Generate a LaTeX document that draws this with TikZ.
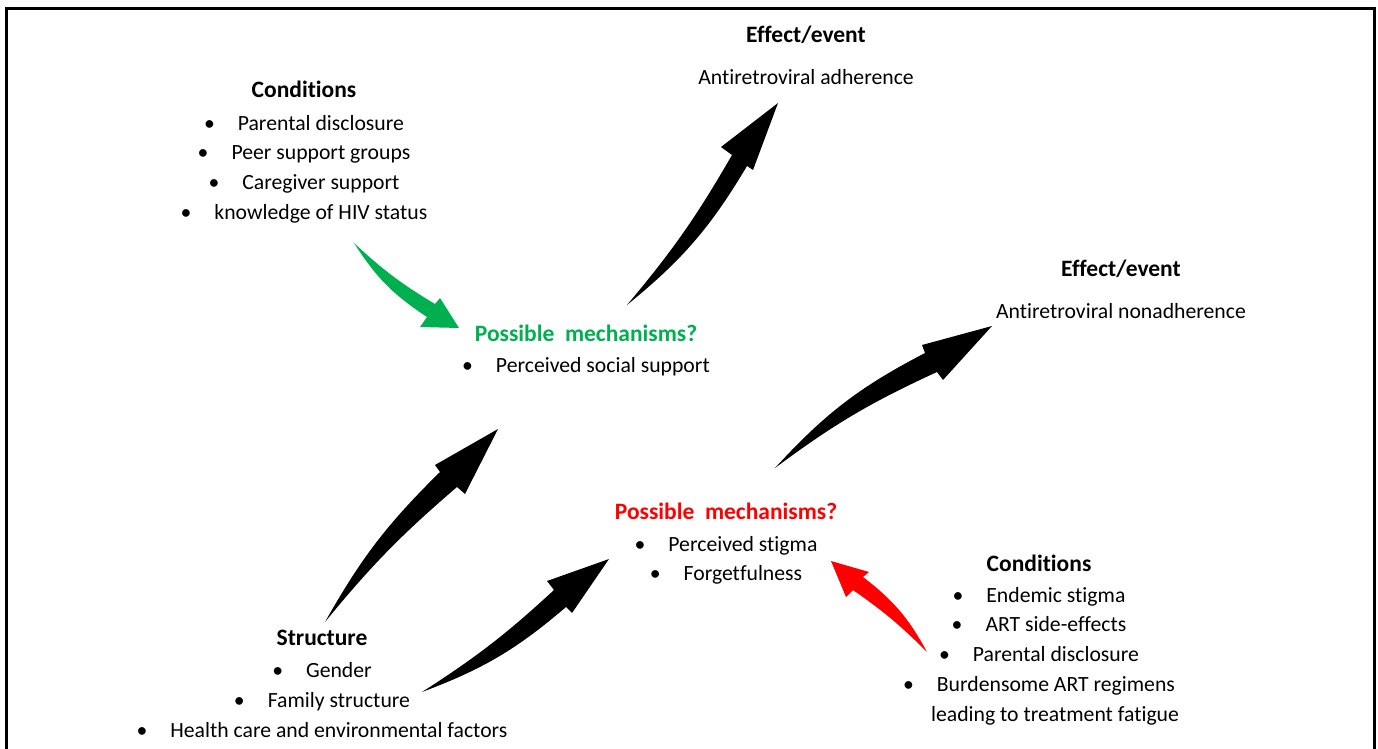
\documentclass[tikz,border=0pt]{standalone}
\usepackage{fontspec}
\setmainfont{Carlito}[Ligatures={TeX,NoCommon}]
\usepackage{xcolor}
\usetikzlibrary{positioning}

\definecolor{mechgreen}{HTML}{00B050}
\definecolor{mechred}{HTML}{FF0000}

\newcommand{\itm}[1]{\textbullet\hspace{23pt}#1}

\begin{document}
\begin{tikzpicture}[
    x=1pt, y=-1pt,
    head/.style={anchor=base, inner sep=0pt, font=\fontsize{23.5}{30}\selectfont\bfseries},
    block/.style={align=center, inner sep=0pt, font=\fontsize{21.7}{29.9}\selectfont},
    swoosh/.style={fill=#1, draw=none},
    swoosh/.default=black
]
    \useasboundingbox (0,0) rectangle (1378,749);

    % Frame (open at the bottom)
    \draw[line width=3pt] (6.5,749) -- (6.5,8.7) -- (1374,8.7) -- (1374,749);

    % Effects
    \node[head] (effA) at (806,43) {Effect/event};
    \node[block, below=42pt of effA.base, anchor=base] (effAtxt) {Antiretroviral adherence};
    \node[head] (effB) at (1121,276) {Effect/event};
    \node[block, below=42pt of effB.base, anchor=base] (effBtxt) {Antiretroviral nonadherence};

    % Conditions (base of a list is its last line)
    \node[head] (condA) at (304,98) {Conditions};
    \node[block, below=121.7pt of condA.base, anchor=base] (condAlist) {\itm{Parental disclosure}\\
        \itm{Peer support groups}\\ \itm{Caregiver support}\\ \itm{knowledge of HIV status}};
    \node[head] (condB) at (1039,571) {Conditions};
    \node[block, below=150.6pt of condB.base, anchor=base] (condBlist) {\itm{Endemic stigma}\\
        \itm{ART side-effects}\\ \itm{Parental disclosure}\\ \itm{Burdensome ART regimens}\\
        \hspace*{32pt}leading to treatment fatigue};

    % Mechanisms
    \node[head, text=mechgreen] (mechA) at (586,341) {Possible\ \ mechanisms?};
    \node[block, below=31pt of mechA.base, anchor=base] (mechAlist) {\itm{Perceived social support}};
    \node[head, text=mechred] (mechB) at (726,519) {Possible\ \ mechanisms?};
    \node[block, below=61.9pt of mechB.base, anchor=base] (mechBlist) {\itm{Perceived stigma}\\ \itm{Forgetfulness}};

    % Structure
    \node[head] (struct) at (322,645) {Structure};
    \node[block, below=92.3pt of struct.base, anchor=base] (structlist) {\itm{Gender}\\
        \itm{Family structure}\\ \itm{Health care and environmental factors}};

    % Arrow tails and tips
    \coordinate (s1) at (627,305); \coordinate (e1) at (778,103);
    \coordinate (s2) at (775,468); \coordinate (e2) at (992,326);
    \coordinate (s3) at (354,243); \coordinate (e3) at (459,328);
    \coordinate (s4) at (325,622); \coordinate (e4) at (498,429);
    \coordinate (s5) at (422,692); \coordinate (e5) at (609,559);
    \coordinate (s6) at (927,652); \coordinate (e6) at (831,561);

    % Curved arrows
    \path[swoosh] (s1) to[bend right=5] (732,155) -- (721,147) -- (e1) -- (753,170) -- (747,166) to[bend left=10] (s1) -- cycle;
    \path[swoosh] (s2) to[bend left=10] (925,353) -- (922,345) -- (e2) -- (943,380) -- (937,372) to[bend right=6] (s2) -- cycle;
    \path[swoosh=mechgreen] (s3) to[bend right=6] (435,304) -- (440,298) -- (e3) -- (420,327) -- (427,317) to[bend left=12] (s3) -- cycle;
    \path[swoosh] (s4) to[bend left=8] (440,472) -- (435,465) -- (e4) -- (465,494) -- (457,487) to[bend right=5] (s4) -- cycle;
    \path[swoosh] (s5) to[bend right=5] (554,590) -- (547,581) -- (e5) -- (572,613) -- (566,607) to[bend left=10] (s5) -- cycle;
    \path[swoosh=mechred] (s6) to[bend right=5] (853,590) -- (846,597) -- (e6) -- (869,572) -- (863,577) to[bend left=12] (s6) -- cycle;
\end{tikzpicture}
\end{document}
